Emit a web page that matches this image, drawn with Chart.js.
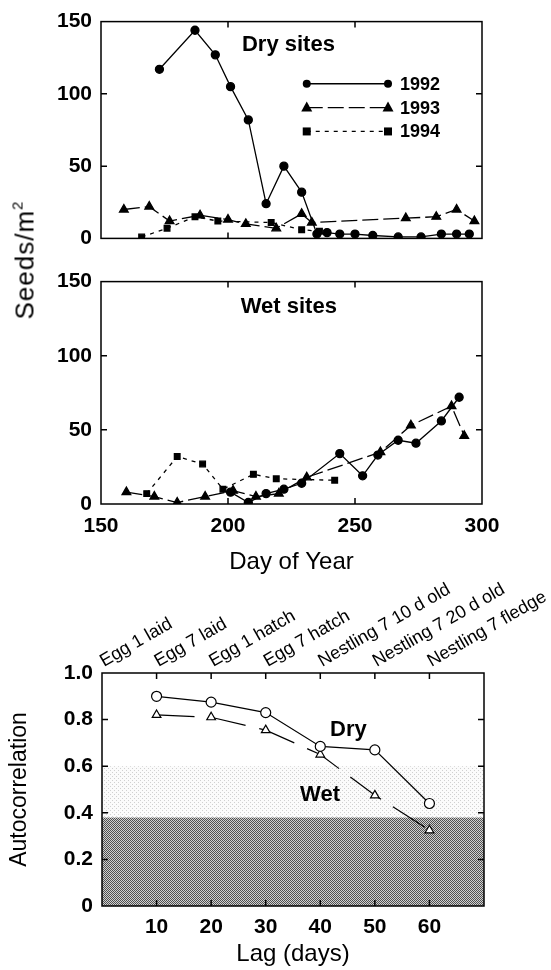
<!DOCTYPE html>
<html><head><meta charset="utf-8">
<script src="https://cdn.jsdelivr.net/npm/chart.js@4/dist/chart.umd.min.js"></script>
<style>
body{margin:0;background:#fff;width:551px;height:970px;position:relative;overflow:hidden;font-family:"Liberation Sans",Arial,sans-serif}
canvas{position:absolute;left:0}
#seeds{position:absolute;left:25px;top:260px;transform:translate(-50%,-50%) rotate(-90deg);font-size:26px;letter-spacing:1px;white-space:nowrap;color:#000}
#seeds sup{font-size:15px;vertical-align:0;position:relative;top:-11px}
</style></head><body>
<canvas id="cA" width="551" height="260" style="top:0"></canvas>
<canvas id="cB" width="551" height="320" style="top:260px"></canvas>
<canvas id="cC" width="551" height="410" style="top:560px"></canvas>
<div id="seeds">Seeds/m<sup>2</sup></div>
<script>
// ---------- DATA ----------
// Dry sites
const dry1992Days = [173,187,195,201,208,215,222,229,235,239,244,250,257,267,276,284,290,295];
const dry1992Vals = [117,144,127,105,82,24,50,32,3,4,3,3,2,1,1,3,3,3];
const dry1993Days = [159,169,177,189,200,207,219,229,233,270,282,290,297];
const dry1993Vals = [20,22,12,16,13,10,7,17,11,14,15,20,12];
const dry1994Days = [166,176,187,196,217,229,236];
const dry1994Vals = [1,7,15,12,11,6,5];
// Wet sites
const wet1992Days = [201,208,215,222,229,244,253,259,267,274,284,291];
const wet1992Vals = [8,1,7,10,14,34,19,33,43,41,56,72];
const wet1993Days = [160,171,180,191,202,211,220,231,260,272,288,293];
const wet1993Vals = [8,5,1,5,9,5,7,18,35,53,66,46];
const wet1994Days = [168,180,190,198,210,219,242];
const wet1994Vals = [7,32,27,10,20,17,16];
// Autocorrelation
const lagDays = [10,20,30,40,50,60];
const acDry = [0.90,0.875,0.83,0.685,0.67,0.44];
const acWet = [0.82,0.81,0.755,0.65,0.475,0.325];
const bandLow = 0.38;   // dark shaded band top
const bandHigh = 0.60;  // light shaded band top
const stageTicks = [0,10,20,30,40,50,60];
const stageLabels = ["Egg 1 laid","Egg 7 laid","Egg 1 hatch","Egg 7 hatch","Nestling 7 10 d old","Nestling 7 20 d old","Nestling 7 fledge"];
const seriesNames = ["1992","1993","1994"];

const FONT = '"Liberation Sans", Arial, sans-serif';
const pts = (xs, ys) => xs.map((x, i) => ({x, y: ys[i]}));

// inward ticks + full box
const boxTicks = {
  id: 'boxTicks',
  afterDatasetsDraw(chart) {
    const {ctx, chartArea: a} = chart;
    ctx.save();
    ctx.strokeStyle = '#000';
    ctx.lineWidth = 1.5;
    ctx.strokeRect(a.left, a.top, a.right - a.left, a.bottom - a.top);
    const L = 6;
    const xs = chart.scales.x, ys = chart.scales.y;
    xs.ticks.forEach(t => {
      const p = xs.getPixelForValue(t.value);
      if (p <= a.left + 1 || p >= a.right - 1) return;
      ctx.beginPath();
      ctx.moveTo(p, a.bottom); ctx.lineTo(p, a.bottom - L);
      ctx.moveTo(p, a.top); ctx.lineTo(p, a.top + L);
      ctx.stroke();
    });
    ys.ticks.forEach(t => {
      const p = ys.getPixelForValue(t.value);
      if (p <= a.top + 1 || p >= a.bottom - 1) return;
      ctx.beginPath();
      ctx.moveTo(a.left, p); ctx.lineTo(a.left + L, p);
      ctx.moveTo(a.right, p); ctx.lineTo(a.right - L, p);
      ctx.stroke();
    });
    ctx.restore();
  }
};

// legend with marker-line-marker
const lineLegend = {
  id: 'lineLegend',
  afterDatasetsDraw(chart) {
    const {ctx} = chart;
    const xs = chart.scales.x, ys = chart.scales.y;
    ctx.save();
    chart.data.datasets.forEach((ds, i) => {
      const y = ys.getPixelForValue(107 - i * 16.5);
      const x0 = xs.getPixelForValue(231), x1 = xs.getPixelForValue(263);
      ctx.strokeStyle = '#000'; ctx.lineWidth = 1.3;
      ctx.setLineDash(ds.borderDash || []);
      ctx.beginPath(); ctx.moveTo(x0, y); ctx.lineTo(x1, y); ctx.stroke();
      ctx.setLineDash([]);
      [x0, x1].forEach(x => drawMarker(ctx, ds.pointStyle, x, y, ds.pointRadius));
      ctx.fillStyle = '#000';
      ctx.font = 'bold 18px ' + FONT;
      ctx.textBaseline = 'middle';
      ctx.fillText(seriesNames[i], x1 + 12, y + 1);
    });
    ctx.restore();
  }
};
function drawMarker(ctx, style, x, y, r) {
  ctx.fillStyle = '#000';
  ctx.beginPath();
  if (style === 'circle') { ctx.arc(x, y, r, 0, Math.PI * 2); }
  else if (style === 'triangle') { ctx.moveTo(x, y - r * 1.2); ctx.lineTo(x + r * 1.1, y + r * 0.8); ctx.lineTo(x - r * 1.1, y + r * 0.8); ctx.closePath(); }
  else { ctx.rect(x - r, y - r, 2 * r, 2 * r); }
  ctx.fill();
}

const textPlugin = {
  id: 'panelText',
  afterDatasetsDraw(chart, args, opts) {
    const {ctx} = chart;
    ctx.save();
    ctx.fillStyle = '#000';
    ctx.textBaseline = 'middle';
    (opts.items || []).forEach(it => {
      ctx.font = it.font;
      ctx.fillText(it.text, chart.scales.x.getPixelForValue(it.x), chart.scales.y.getPixelForValue(it.y));
    });
    ctx.restore();
  }
};

// rotated developmental-stage labels along top of autocorrelation panel
const stagePlugin = {
  id: 'stages',
  afterDraw(chart) {
    const {ctx, chartArea: a} = chart;
    const xs = chart.scales.x;
    ctx.save();
    ctx.fillStyle = '#000';
    ctx.font = '18px ' + FONT;
    ctx.textAlign = 'left';
    ctx.textBaseline = 'alphabetic';
    stageTicks.forEach((v, i) => {
      const px = xs.getPixelForValue(v);
      ctx.save();
      ctx.translate(px + 2, a.top - 6);
      ctx.rotate(-Math.PI / 6);
      ctx.fillText(stageLabels[i], 0, 0);
      ctx.restore();
    });
    ctx.restore();
  }
};

function seedDatasets(d92x, d92y, d93x, d93y, d94x, d94y) {
  const base = {borderColor: '#000', backgroundColor: '#000', pointBackgroundColor: '#000', pointBorderColor: '#000', borderWidth: 1.3, fill: false, tension: 0, showLine: true};
  return [
    Object.assign({}, base, {label: '1992', data: pts(d92x, d92y), pointStyle: 'circle', pointRadius: 4}),
    Object.assign({}, base, {label: '1993', data: pts(d93x, d93y), pointStyle: 'triangle', pointRadius: 5, borderDash: [16, 5]}),
    Object.assign({}, base, {label: '1994', data: pts(d94x, d94y), pointStyle: 'rect', pointRadius: 4, borderDash: [4, 5]})
  ];
}

const tickFont = {family: FONT, size: 21, weight: 'bold'};

function seedOptions(showX, texts) {
  return {
    responsive: false, animation: false, devicePixelRatio: 1,
    layout: {padding: {left: 0, right: 69, top: showX ? 16 : 15, bottom: 0}},
    plugins: {legend: {display: false}, tooltip: {enabled: false}, panelText: {items: texts}},
    scales: {
      x: {type: 'linear', min: 150, max: 300,
        ticks: {display: showX, stepSize: 50, color: '#000', font: tickFont, padding: 10},
        grid: {display: false, drawTicks: false}, border: {display: false},
        title: {display: showX, text: 'Day of Year', color: '#000', font: {family: FONT, size: 24}, padding: {top: 0, bottom: 3}},
        afterFit: s => { s.height = showX ? 76 : 17; }
      },
      y: {min: 0, max: 150,
        ticks: {stepSize: 50, color: '#000', font: tickFont, padding: 9},
        grid: {display: false, drawTicks: false}, border: {display: false},
        afterFit: s => { s.width = 101; }
      }
    }
  };
}

new Chart(document.getElementById('cA'), {
  type: 'scatter',
  data: {datasets: seedDatasets(dry1992Days, dry1992Vals, dry1993Days, dry1993Vals, dry1994Days, dry1994Vals)},
  options: seedOptions(false, [{text: 'Dry sites', x: 205.5, y: 134, font: 'bold 22px ' + FONT}]),
  plugins: [boxTicks, lineLegend, textPlugin]
});

new Chart(document.getElementById('cB'), {
  type: 'scatter',
  data: {datasets: seedDatasets(wet1992Days, wet1992Vals, wet1993Days, wet1993Vals, wet1994Days, wet1994Vals)},
  options: seedOptions(true, [{text: 'Wet sites', x: 205, y: 133, font: 'bold 22px ' + FONT}]),
  plugins: [boxTicks, textPlugin]
});

// stipple patterns
function makePattern(kind) {
  const c = document.createElement('canvas');
  c.width = 4; c.height = 4;
  const g = c.getContext('2d');
  if (kind === 'dark') {
    g.fillStyle = '#d0d0d0'; g.fillRect(0, 0, 4, 4);
    g.fillStyle = '#505050';
    g.fillRect(0, 0, 1, 1); g.fillRect(2, 0, 1, 1); g.fillRect(1, 1, 1, 1); g.fillRect(3, 1, 1, 1);
    g.fillRect(0, 2, 1, 1); g.fillRect(2, 2, 1, 1); g.fillRect(1, 3, 1, 1); g.fillRect(3, 3, 1, 1);
  } else {
    g.fillStyle = '#fbfbfb'; g.fillRect(0, 0, 4, 4);
    g.fillStyle = '#d0d0d0';
    g.fillRect(0, 0, 1, 1); g.fillRect(2, 2, 1, 1);
  }
  return g.createPattern(c, 'repeat');
}

const acTexts = [
  {text: 'Dry', x: 41.8, y: 0.755, font: 'bold 22px ' + FONT},
  {text: 'Wet', x: 36.3, y: 0.476, font: 'bold 22px ' + FONT}
];

new Chart(document.getElementById('cC'), {
  type: 'scatter',
  data: {datasets: [
    {label: 'Dry', data: pts(lagDays, acDry), showLine: true, borderColor: '#000', borderWidth: 1.2, pointStyle: 'circle', pointRadius: 5, pointBackgroundColor: '#fff', pointBorderColor: '#000', pointBorderWidth: 1.2, order: 0},
    {label: 'Wet', data: pts(lagDays, acWet), showLine: true, borderColor: '#000', borderWidth: 1.2, borderDash: [38, 14], pointStyle: 'triangle', pointRadius: 5, pointBackgroundColor: '#fff', pointBorderColor: '#000', pointBorderWidth: 1.2, order: 1},
    {label: 'bandLow', data: [{x: 0, y: bandLow}, {x: 70, y: bandLow}], showLine: true, pointRadius: 0, borderWidth: 0, borderColor: 'rgba(0,0,0,0)', backgroundColor: makePattern('dark'), fill: 'origin', order: 5},
    {label: 'bandHigh', data: [{x: 0, y: bandHigh}, {x: 70, y: bandHigh}], showLine: true, pointRadius: 0, borderWidth: 0, borderColor: 'rgba(0,0,0,0)', backgroundColor: makePattern('light'), fill: '-1', order: 6}
  ]},
  options: {
    responsive: false, animation: false, devicePixelRatio: 1,
    layout: {padding: {left: 0, right: 67, top: 113, bottom: 0}},
    plugins: {legend: {display: false}, tooltip: {enabled: false}, filler: {propagate: false}, panelText: {items: acTexts}},
    scales: {
      x: {type: 'linear', min: 0, max: 70, position: 'bottom',
        ticks: {stepSize: 10, color: '#000', font: tickFont, padding: 9, callback: v => (v === 0 || v === 70) ? '' : String(v)},
        grid: {display: false, drawTicks: false}, border: {display: false},
        title: {display: true, text: 'Lag (days)', color: '#000', font: {family: FONT, size: 24}, padding: {top: 0, bottom: 1}},
        afterFit: s => { s.height = 410 - 346; }
      },
      y: {min: 0, max: 1,
        ticks: {stepSize: 0.2, color: '#000', font: tickFont, padding: 9, callback: v => v === 0 ? '0' : v.toFixed(1)},
        grid: {display: false, drawTicks: false}, border: {display: false},
        title: {display: true, text: 'Autocorrelation', color: '#000', font: {family: FONT, size: 23}, padding: {top: 6, bottom: 0}},
        afterFit: s => { s.width = 102; }
      }
    }
  },
  plugins: [boxTicks, textPlugin, stagePlugin]
});
</script>
</body></html>
